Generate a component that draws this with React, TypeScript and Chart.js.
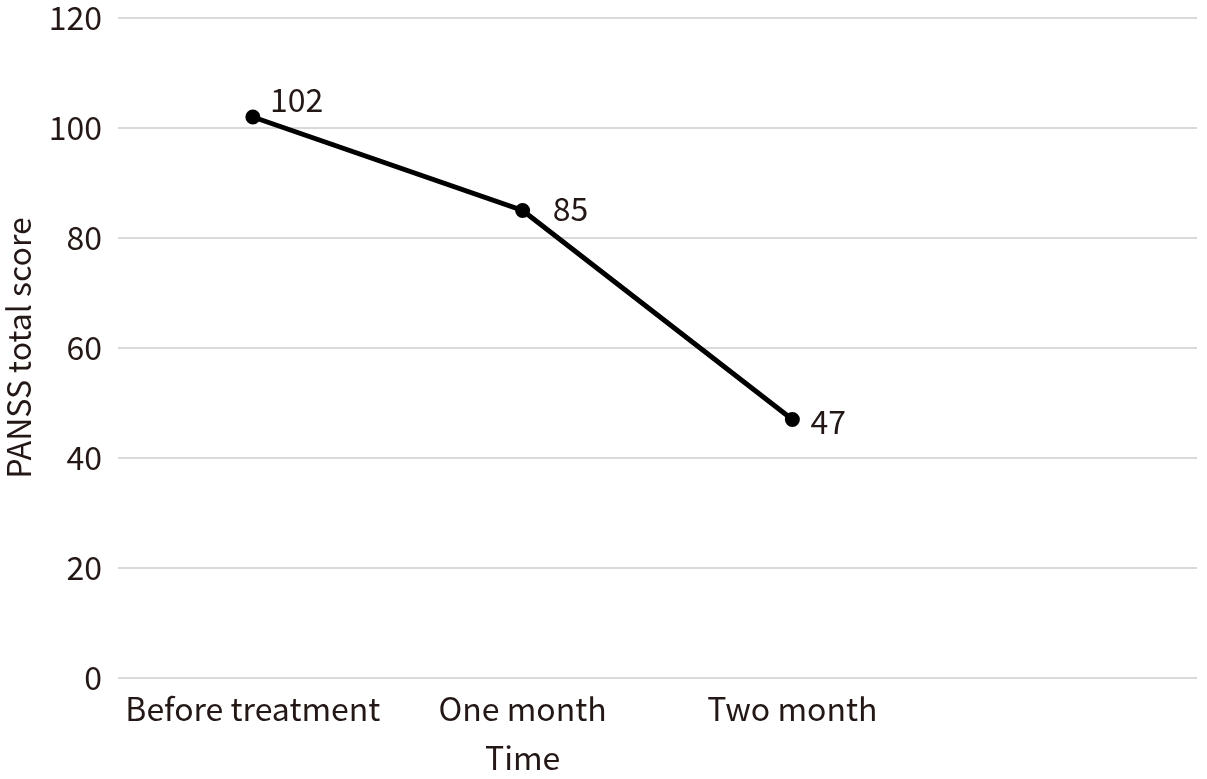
import React, { useEffect, useRef } from "react";
import { Chart, registerables } from "chart.js";

Chart.register(...registerables);

const categories = ["Before treatment", "One month", "Two month", ""];
const scores = [102, 85, 47, null];
const yTicks = [0, 20, 40, 60, 80, 100, 120];
const labelOffsets = [
  [17, -17],
  [30, -2],
  [18, 2],
];

const FONT = "'Noto Sans CJK JP', 'Noto Sans', sans-serif";
const INK = "#231815";
const FS = 32;

const valueLabels = {
  id: "valueLabels",
  afterDatasetsDraw(chart: any) {
    const ctx = chart.ctx;
    const meta = chart.getDatasetMeta(0);
    ctx.save();
    ctx.font = `${FS}px ${FONT}`;
    ctx.fillStyle = INK;
    ctx.textAlign = "left";
    ctx.textBaseline = "middle";
    meta.data.forEach((pt: any, i: number) => {
      const v = scores[i];
      if (v == null) return;
      const off = labelOffsets[i] || [18, 0];
      ctx.fillText(String(v), pt.x + off[0], pt.y + off[1]);
    });
    // x-axis title, placed under the middle category as in the reference
    const xs = chart.scales.x;
    ctx.textAlign = "center";
    ctx.textBaseline = "middle";
    ctx.fillText("Time", xs.getPixelForValue(1), chart.chartArea.bottom + 80);
    ctx.restore();
  },
};

export default function App() {
  const ref = useRef<HTMLCanvasElement>(null);
  useEffect(() => {
    const chart = new Chart(ref.current!, {
      type: "line",
      data: {
        labels: categories,
        datasets: [
          {
            data: scores,
            borderColor: "#000",
            backgroundColor: "#000",
            borderWidth: 5,
            pointRadius: 5,
            pointBackgroundColor: "#000",
            pointBorderColor: "#000",
            tension: 0,
          },
        ],
      },
      options: {
        animation: false,
        responsive: false,
        layout: { padding: { top: 18, right: 3, left: 0, bottom: 0 } },
        plugins: { legend: { display: false }, tooltip: { enabled: false } },
        scales: {
          x: {
            offset: true,
            grid: { display: false, drawTicks: false },
            border: { display: false },
            ticks: { color: INK, font: { family: FONT, size: FS }, padding: 12, maxRotation: 0, autoSkip: false },
            afterFit(scale: any) {
              scale.height = 101;
              scale.paddingLeft = 0;
              scale.paddingRight = 0;
            },
          },
          y: {
            min: 0,
            max: 120,
            afterBuildTicks(scale: any) {
              scale.ticks = yTicks.map((v) => ({ value: v }));
            },
            grid: { color: "#d9d9d9", lineWidth: 2, drawTicks: false },
            border: { display: false },
            ticks: { color: INK, font: { family: FONT, size: FS }, padding: 16 },
            title: { display: true, text: "PANSS total score", color: INK, font: { family: FONT, size: FS }, padding: { top: 0, bottom: 0 } },
            afterFit(scale: any) {
              scale.width = 118;
              scale.paddingTop = 0;
              scale.paddingBottom = 0;
            },
          },
        },
      },
      plugins: [valueLabels],
    });
    return () => chart.destroy();
  }, []);
  return (
    <div style={{ position: "fixed", left: 0, top: 0, width: 1207, height: 779, background: "#fff" }}>
      <canvas ref={ref} width={1207} height={779} />
    </div>
  );
}
